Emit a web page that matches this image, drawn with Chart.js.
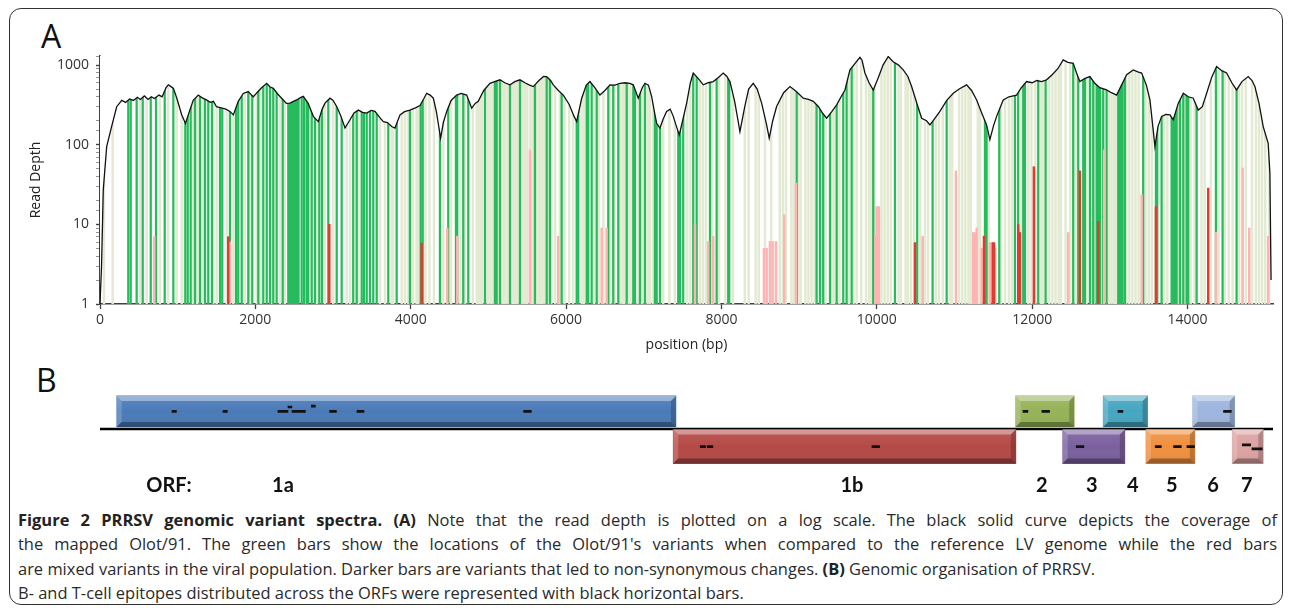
<!DOCTYPE html>
<html>
<head>
<meta charset="utf-8">
<script src="https://cdn.jsdelivr.net/npm/chart.js@4.4.1/dist/chart.umd.min.js"></script>
<style>
  html, body { margin: 0; padding: 0; background: #fff; }
  body { width: 1293px; height: 615px; position: relative; overflow: hidden; font-family: "Open Sans", sans-serif; color: #222; }
  #frame { position: absolute; left: 9px; top: 8px; width: 1274px; height: 597px; border: 1.5px solid #333; border-radius: 12px; box-sizing: border-box; }
  .panel { position: absolute; font-family: "Open Sans", sans-serif; font-size: 32px; line-height: 32px; color: #111; }
  canvas { position: absolute; }
  .orf { position: absolute; top: 474px; font-family: Lato, sans-serif; font-weight: bold; font-size: 20px; line-height: 20px; color: #111; transform: translateX(-50%); white-space: nowrap; }
  #caption { position: absolute; left: 18px; top: 508px; width: 1259px; font-size: 16px; line-height: 24.3px; color: #2a2a2a; }
  #caption .row { white-space: nowrap; }
  #caption .just { text-align: justify; text-align-last: justify; }
  #caption b { color: #222; }
</style>
</head>
<body>
<div id="frame"></div>
<div class="panel" style="left:41px; top:20px;">A</div>
<div class="panel" style="left:36px; top:364px;">B</div>
<canvas id="depthChart" width="1263" height="340" style="left:20px; top:20px;"></canvas>
<canvas id="orfChart" width="1263" height="88" style="left:20px; top:385px;"></canvas>
<div id="orfLabels"></div>
<div id="caption">
  <div class="row just"><b>Figure 2 PRRSV genomic variant spectra. (A)</b> Note that the read depth is plotted on a log scale. The black solid curve depicts the coverage of</div>
  <div class="row just">the mapped Olot/91. The green bars show the locations of the Olot/91's variants when compared to the reference LV genome while the red bars</div>
  <div class="row"><span id="line3">are mixed variants in the viral population. Darker bars are variants that led to non-synonymous changes. <b>(B)</b> Genomic organisation of PRRSV.</span></div>
  <div class="row"><span id="line4">B- and T-cell epitopes distributed across the ORFs were represented with black horizontal bars.</span></div>
</div>
<script>
// genome length shown on both panels (bp) and the depth axis top
const GENOME_MAX = 15100;
const DEPTH_MAX = 1300;
const xTicks = [0, 2000, 4000, 6000, 8000, 10000, 12000, 14000];

// coverage curve (read depth along the genome)
const coverageBp = [0, 20, 42, 86, 150, 215, 280, 330, 380, 430, 480, 520, 570, 620, 660, 700, 760, 800, 850, 880, 910, 945, 990, 1050, 1100, 1150, 1200, 1265, 1310, 1370, 1420, 1460, 1500, 1560, 1620, 1673, 1716, 1780, 1845, 1909, 1950, 1975, 2020, 2080, 2146, 2190, 2231, 2290, 2359, 2400, 2446, 2490, 2532, 2580, 2617, 2680, 2746, 2810, 2860, 2896, 2961, 3000, 3047, 3100, 3154, 3218, 3270, 3325, 3380, 3433, 3490, 3540, 3600, 3647, 3700, 3755, 3797, 3862, 3920, 3990, 4060, 4119, 4170, 4205, 4250, 4291, 4330, 4354, 4385, 4420, 4463, 4520, 4591, 4650, 4720, 4785, 4830, 4869, 4940, 5020, 5080, 5149, 5210, 5278, 5340, 5406, 5470, 5530, 5578, 5650, 5710, 5750, 5800, 5835, 5900, 5964, 6040, 6100, 6136, 6200, 6260, 6307, 6370, 6436, 6500, 6565, 6630, 6693, 6760, 6820, 6865, 6929, 6980, 7015, 7060, 7101, 7140, 7166, 7208, 7250, 7294, 7340, 7380, 7420, 7457, 7500, 7552, 7600, 7637, 7700, 7766, 7830, 7895, 7960, 8023, 8070, 8109, 8170, 8238, 8300, 8350, 8409, 8460, 8517, 8580, 8615, 8660, 8710, 8800, 8882, 8960, 9053, 9120, 9182, 9250, 9300, 9354, 9420, 9483, 9540, 9590, 9654, 9720, 9783, 9810, 9847, 9900, 9954, 10020, 10080, 10147, 10210, 10280, 10340, 10400, 10448, 10520, 10577, 10640, 10684, 10740, 10812, 10900, 10984, 11060, 11156, 11220, 11285, 11350, 11413, 11456, 11500, 11542, 11627, 11700, 11799, 11860, 11928, 12000, 12060, 12120, 12185, 12260, 12330, 12399, 12460, 12528, 12570, 12614, 12680, 12743, 12800, 12870, 12958, 13020, 13087, 13150, 13216, 13301, 13360, 13409, 13470, 13516, 13550, 13580, 13620, 13666, 13720, 13773, 13816, 13880, 13945, 14010, 14073, 14138, 14190, 14246, 14310, 14374, 14440, 14503, 14570, 14631, 14700, 14781, 14830, 14867, 14920, 14974, 15038, 15060, 15075];
const coverageDepth = [1, 3, 27, 95, 170, 300, 360, 340, 375, 360, 395, 370, 410, 370, 400, 380, 420, 400, 520, 565, 540, 510, 380, 240, 185, 260, 360, 420, 390, 365, 340, 350, 300, 290, 280, 262, 237, 350, 440, 465, 420, 400, 450, 520, 590, 530, 510, 430, 365, 330, 333, 350, 365, 390, 405, 330, 227, 195, 280, 333, 384, 360, 302, 230, 162, 206, 250, 272, 255, 250, 270, 262, 220, 195, 190, 169, 162, 237, 260, 272, 290, 310, 380, 442, 420, 384, 260, 186, 121, 190, 262, 360, 420, 440, 420, 288, 330, 350, 480, 591, 620, 653, 600, 565, 620, 653, 600, 560, 537, 640, 720, 718, 640, 565, 480, 420, 320, 230, 195, 380, 560, 621, 520, 420, 480, 565, 560, 591, 600, 590, 565, 384, 520, 591, 560, 405, 250, 186, 162, 210, 262, 280, 227, 170, 133, 200, 333, 600, 795, 680, 565, 600, 621, 700, 795, 720, 621, 350, 146, 300, 500, 591, 500, 333, 180, 121, 200, 302, 450, 537, 470, 384, 370, 350, 300, 250, 215, 260, 316, 400, 487, 870, 1050, 1250, 1150, 795, 600, 487, 700, 1000, 1280, 1100, 1000, 870, 720, 537, 320, 215, 200, 177, 210, 262, 360, 442, 500, 565, 480, 365, 250, 177, 116, 170, 227, 365, 400, 420, 520, 621, 600, 640, 620, 653, 760, 900, 1159, 1080, 1050, 800, 621, 680, 718, 600, 520, 487, 450, 420, 560, 759, 870, 820, 795, 560, 365, 180, 95, 170, 227, 240, 237, 206, 330, 442, 400, 384, 272, 300, 442, 700, 958, 850, 795, 600, 487, 620, 718, 640, 537, 330, 169, 104, 44, 2];

// variants that changed the protein (dark green) and silent ones (pale green), bp
const variantNonSyn = [364, 395, 472, 550, 653, 721, 833, 944, 1098, 1129, 1167, 1223, 1287, 1352, 1394, 1441, 1545, 1574, 1673, 1751, 1780, 1824, 1909, 1960, 2038, 2102, 2146, 2188, 2231, 2274, 2352, 2424, 2436, 2448, 2460, 2472, 2484, 2496, 2508, 2520, 2532, 2544, 2556, 2596, 2626, 2661, 2681, 2725, 2767, 2823, 2858, 2939, 3047, 3111, 3260, 3304, 3369, 3398, 3433, 3475, 3518, 3562, 3711, 3819, 3990, 4128, 4154, 4376, 4483, 4582, 4599, 4676, 4741, 4956, 5084, 5106, 5149, 5278, 5406, 5599, 5750, 5792, 5943, 6136, 6157, 6265, 6285, 6329, 6394, 6543, 6607, 6672, 6780, 6865, 6886, 6951, 7015, 7144, 7166, 7208, 7444, 7466, 7508, 7637, 7681, 7852, 7938, 8087, 8100, 8968, 9225, 9268, 9310, 9397, 9483, 9568, 9611, 9676, 9954, 10233, 10520, 10718, 10899, 11392, 11413, 11576, 11778, 11820, 11885, 11907, 12078, 12173, 12528, 12593, 12657, 12679, 12743, 12786, 12830, 12850, 12872, 12915, 12958, 13108, 13129, 13142, 13164, 13194, 13429, 13593, 13610, 13666, 13795, 13816, 13837, 13859, 13902, 13945, 13988, 14009, 14117, 14365, 14451, 14631];
const variantSyn = [51, 163, 515, 601, 772, 879, 987, 1052, 1193, 1252, 1330, 1459, 1502, 1631, 1716, 1866, 1931, 2017, 2068, 2210, 2317, 2381, 2639, 2789, 2896, 3003, 3175, 3218, 3325, 3604, 3669, 3755, 3776, 3884, 3926, 3969, 4030, 4075, 4098, 4190, 4240, 4300, 4420, 4520, 4640, 4700, 4800, 4850, 4880, 4900, 4920, 4990, 5000, 5030, 5040, 5070, 5120, 5180, 5200, 5220, 5250, 5280, 5310, 5330, 5340, 5370, 5400, 5420, 5440, 5470, 5500, 5540, 5560, 5580, 5600, 5620, 5650, 5670, 5690, 5720, 5760, 5780, 5810, 5860, 5920, 5980, 6040, 6090, 6200, 6230, 6360, 6420, 6480, 6570, 6620, 6700, 6730, 6750, 6800, 6830, 6920, 6980, 7050, 7080, 7120, 7250, 7330, 7400, 7560, 7600, 7720, 7760, 7800, 7880, 7970, 8050, 8150, 8300, 8350, 8440, 8480, 8560, 8640, 8750, 8790, 8830, 8900, 8930, 8990, 9020, 9080, 9120, 9160, 9200, 9290, 9340, 9420, 9450, 9520, 9640, 9700, 9740, 9800, 9860, 9900, 9930, 9970, 10060, 10100, 10140, 10180, 10280, 10310, 10370, 10400, 10440, 10480, 10560, 10620, 10660, 10760, 10800, 10850, 10940, 10970, 11060, 11100, 11140, 11180, 11210, 11300, 11330, 11440, 11600, 11650, 11700, 11740, 11860, 11950, 11990, 12040, 12110, 12140, 12220, 12260, 12300, 12340, 12370, 12430, 12490, 12560, 12700, 12760, 12800, 12900, 12990, 13020, 13050, 13080, 13210, 13250, 13290, 13330, 13370, 13460, 13500, 13540, 13700, 13740, 13880, 13920, 13970, 14040, 14090, 14180, 14220, 14300, 14400, 14480, 14530, 14580, 14660, 14700, 14750, 14830, 14880, 14920, 14960, 15000, 15050];

// mixed variants: position (bp) and read depth of the minor allele
const mixedDarkBp = [1651, 2952, 4141, 10491, 11379, 11491, 11508, 11820, 11842, 12022, 12614, 12850, 13593, 14266];
const mixedDarkDepth = [7, 10, 5.8, 5.9, 7.1, 5.9, 5.9, 9.9, 7.9, 53, 47, 10.9, 16.7, 28.5];
const mixedLightBp = [699, 1673, 4470, 4599, 5535, 5899, 6458, 6522, 7659, 7830, 7894, 8547, 8582, 8624, 8659, 8702, 8808, 8959, 9982, 9998, 10027, 10590, 11018, 11241, 11263, 11285, 11349, 11456, 11524, 12464, 12927, 13409, 14365, 14709, 14794, 15038];
const mixedLightDepth = [7, 6, 9, 7.1, 86, 7.1, 9, 9, 9.9, 6.1, 7.1, 5, 5, 6.1, 6.1, 6.1, 13.2, 33, 7.1, 16.7, 16.7, 7.1, 47, 7.9, 7.9, 9, 5, 5.9, 5, 7.9, 86, 23.5, 7.9, 51, 9, 7.1];

// ORFs (panel B): name, start, end (bp), strand row (1 above line, -1 below)
const orfNames = ['1a', '1b', '2', '3', '4', '5', '6', '7'];
const orfStart = [215, 7379, 11786, 12392, 12914, 13464, 14065, 14575];
const orfEnd = [7414, 11790, 12541, 13193, 13486, 14094, 14607, 14974];
const orfRow = [1, -1, 1, -1, 1, -1, 1, -1];
const orfColors = ['#4a7bb8', '#b44a46', '#95b357', '#7b609e', '#46a6c1', '#f0903f', '#9db6de', '#dca3a2'];

// epitopes: start, end (bp) and row level
const epiStart = [923, 1579, 2287, 2416, 2468, 2716, 2952, 3304, 5449, 7723, 7813, 9933, 11877, 12121, 12563, 13100, 13580, 13816, 13988, 14459, 14700, 14764, 14825];
const epiEnd = [987, 1643, 2424, 2475, 2648, 2777, 3047, 3402, 5557, 7800, 7894, 10040, 11949, 12228, 12670, 13172, 13666, 13924, 14094, 14567, 14764, 14816, 14966];
const epiRow = [1, 1, 1, 1.25, 1, 1.3, 1, 1, 1, -1, -1, -1, 1, 1, -1, 1, -1, -1, -1, 1, -0.9, -0.9, -1.13];

// ORF label positions under the diagram (bp)
const labelText = ['ORF:', '1a', '1b', '2', '3', '4', '5', '6', '7'];
const labelBp = [888, 2355, 9680, 12125, 12769, 13296, 13799, 14327, 14764];

// caption size: the two unjustified lines together span about this many pixels
const SHORT_LINES_WIDTH = 1804;
const cap = document.getElementById('caption');
const shortW = document.getElementById('line3').getBoundingClientRect().width + document.getElementById('line4').getBoundingClientRect().width;
cap.style.fontSize = (16 * SHORT_LINES_WIDTH / shortW) + 'px';

Chart.defaults.font.family = "'Open Sans', sans-serif";
Chart.defaults.color = '#333';

const tickFont = { family: "'Open Sans', sans-serif", size: 14 };
const isDecade = v => Math.abs(Math.log10(v) - Math.round(Math.log10(v))) < 1e-9;
const asBars = (bp, tops) => bp.map((x, i) => ({ x: x, y: [1, Array.isArray(tops) ? tops[i] : tops] }));

new Chart(document.getElementById('depthChart'), {
    type: 'bar',
    data: {
        datasets: [
            {
                type: 'line',
                label: 'coverage',
                data: coverageBp.map((x, i) => ({ x: x, y: coverageDepth[i] })),
                borderColor: '#111',
                borderWidth: 1.3,
                pointRadius: 0,
                tension: 0,
                fill: 'end',
                backgroundColor: '#ffffff',
                order: 2
            },
            { label: 'mixed, non-synonymous', data: asBars(mixedDarkBp, mixedDarkDepth), backgroundColor: '#e23a30', barThickness: 1.8, grouped: false, order: 0 },
            { label: 'mixed', data: asBars(mixedLightBp, mixedLightDepth), backgroundColor: '#ffb3b3', barThickness: 1.8, grouped: false, order: 1 },
            { label: 'variant, non-synonymous', data: asBars(variantNonSyn, DEPTH_MAX), backgroundColor: '#26bb5c', barThickness: 1.6, grouped: false, order: 3 },
            { label: 'variant, synonymous', data: asBars(variantSyn, DEPTH_MAX), backgroundColor: '#e3ead2', barThickness: 1.8, grouped: false, order: 4 }
        ]
    },
    options: {
        responsive: false,
        animation: false,
        layout: { padding: { left: 0, right: 10, top: 36, bottom: 3 } },
        plugins: { legend: { display: false }, tooltip: { enabled: false } },
        scales: {
            x: {
                type: 'linear', min: 0, max: GENOME_MAX, offset: false, z: 1,
                grid: { drawOnChartArea: false, drawTicks: true, tickLength: 5, color: '#404040', tickWidth: 1.3, offset: false },
                border: { color: '#404040', width: 1.5 },
                ticks: { autoSkip: false, maxRotation: 0, padding: 3, color: '#333', font: tickFont, callback: v => String(v) },
                afterBuildTicks: s => { s.ticks = xTicks.map(v => ({ value: v })); },
                title: { display: true, text: 'position (bp)', color: '#222', font: tickFont, padding: { top: 0, bottom: 4 } },
                afterFit: s => { s.height = 53; }
            },
            y: {
                type: 'logarithmic', min: 1, max: DEPTH_MAX, z: 1,
                grid: {
                    drawOnChartArea: false, drawTicks: true, tickLength: 4,
                    color: c => isDecade(c.tick.value) ? '#404040' : '#777',
                    tickWidth: c => isDecade(c.tick.value) ? 1.4 : 0.8
                },
                border: { color: '#404040', width: 1.5 },
                ticks: {
                    autoSkip: false, includeBounds: false, padding: 7, color: '#333', font: tickFont,
                    callback: v => isDecade(v) ? String(v) : ''
                },
                title: { display: true, text: 'Read Depth', color: '#222', font: tickFont, padding: { top: 8, bottom: 0 } },
                afterFit: s => { s.width = 80; }
            }
        }
    }
});

// bevelled look of the ORF boxes
function facet(ctx, pts, fill) {
    ctx.beginPath();
    ctx.moveTo(pts[0][0], pts[0][1]);
    for (let i = 1; i < pts.length; i++) ctx.lineTo(pts[i][0], pts[i][1]);
    ctx.closePath();
    ctx.fillStyle = fill;
    ctx.fill();
}

const bevel = {
    id: 'bevel',
    afterDatasetDraw(chart, args) {
        if (!chart.data.datasets[args.index].bevel) return;
        const ctx = chart.ctx;
        args.meta.data.forEach(bar => {
            const p = bar.getProps(['x', 'y', 'base', 'height'], true);
            const l = Math.min(p.x, p.base), r = Math.max(p.x, p.base);
            const t = p.y - p.height / 2, b = p.y + p.height / 2, d = 5;
            ctx.save();
            const g = ctx.createLinearGradient(0, t, 0, b);
            g.addColorStop(0, 'rgba(255,255,255,0.10)');
            g.addColorStop(0.5, 'rgba(255,255,255,0)');
            g.addColorStop(1, 'rgba(0,0,0,0.08)');
            facet(ctx, [[l, t], [r, t], [r, b], [l, b]], g);
            facet(ctx, [[l, t], [r, t], [r - d, t + d], [l + d, t + d]], 'rgba(255,255,255,0.38)');
            facet(ctx, [[l, t], [l + d, t + d], [l + d, b - d], [l, b]], 'rgba(255,255,255,0.18)');
            facet(ctx, [[l, b], [l + d, b - d], [r - d, b - d], [r, b]], 'rgba(0,0,0,0.32)');
            facet(ctx, [[r, t], [r, b], [r - d, b - d], [r - d, t + d]], 'rgba(0,0,0,0.2)');
            ctx.restore();
        });
    }
};

const orfBoxes = row => orfNames.map((n, i) => ({ y: orfRow[i], x: [orfStart[i], orfEnd[i]] })).filter(d => d.y === row);
const orfBoxColors = row => orfColors.filter((c, i) => orfRow[i] === row);

const epiPoints = [];
epiStart.forEach((s, i) => {
    epiPoints.push({ x: s, y: epiRow[i] }, { x: epiEnd[i], y: epiRow[i] }, { x: null, y: null });
});

new Chart(document.getElementById('orfChart'), {
    type: 'bar',
    data: {
        datasets: [
            { type: 'line', label: 'genome', data: [{ x: 0, y: 0 }, { x: GENOME_MAX, y: 0 }], borderColor: '#000', borderWidth: 2.5, pointRadius: 0, order: 3 },
            { label: 'ORF (upper)', indexAxis: 'y', data: orfBoxes(1), backgroundColor: orfBoxColors(1), barThickness: 31, grouped: false, bevel: true, order: 2 },
            { label: 'ORF (lower)', indexAxis: 'y', data: orfBoxes(-1), backgroundColor: orfBoxColors(-1), barThickness: 34, grouped: false, bevel: true, order: 2 },
            { type: 'line', label: 'epitopes', data: epiPoints, borderColor: '#111', borderWidth: 2.6, pointRadius: 0, spanGaps: false, order: 0 }
        ]
    },
    options: {
        responsive: false,
        animation: false,
        layout: { padding: { left: 80, right: 10, top: 0, bottom: 0 } },
        plugins: { legend: { display: false }, tooltip: { enabled: false } },
        scales: {
            x: { type: 'linear', min: 0, max: GENOME_MAX, offset: false, display: false },
            y: { type: 'linear', min: -2.5, max: 2.5, offset: false, display: false }
        }
    },
    plugins: [bevel]
});

// ORF names placed along the genome axis of panel B
const orfChart = Chart.getChart('orfChart');
const labels = document.getElementById('orfLabels');
labelText.forEach((t, i) => {
    const d = document.createElement('div');
    d.className = 'orf';
    d.textContent = t;
    d.style.left = (20 + orfChart.scales.x.getPixelForValue(labelBp[i])) + 'px';
    labels.appendChild(d);
});
</script>
</body>
</html>
